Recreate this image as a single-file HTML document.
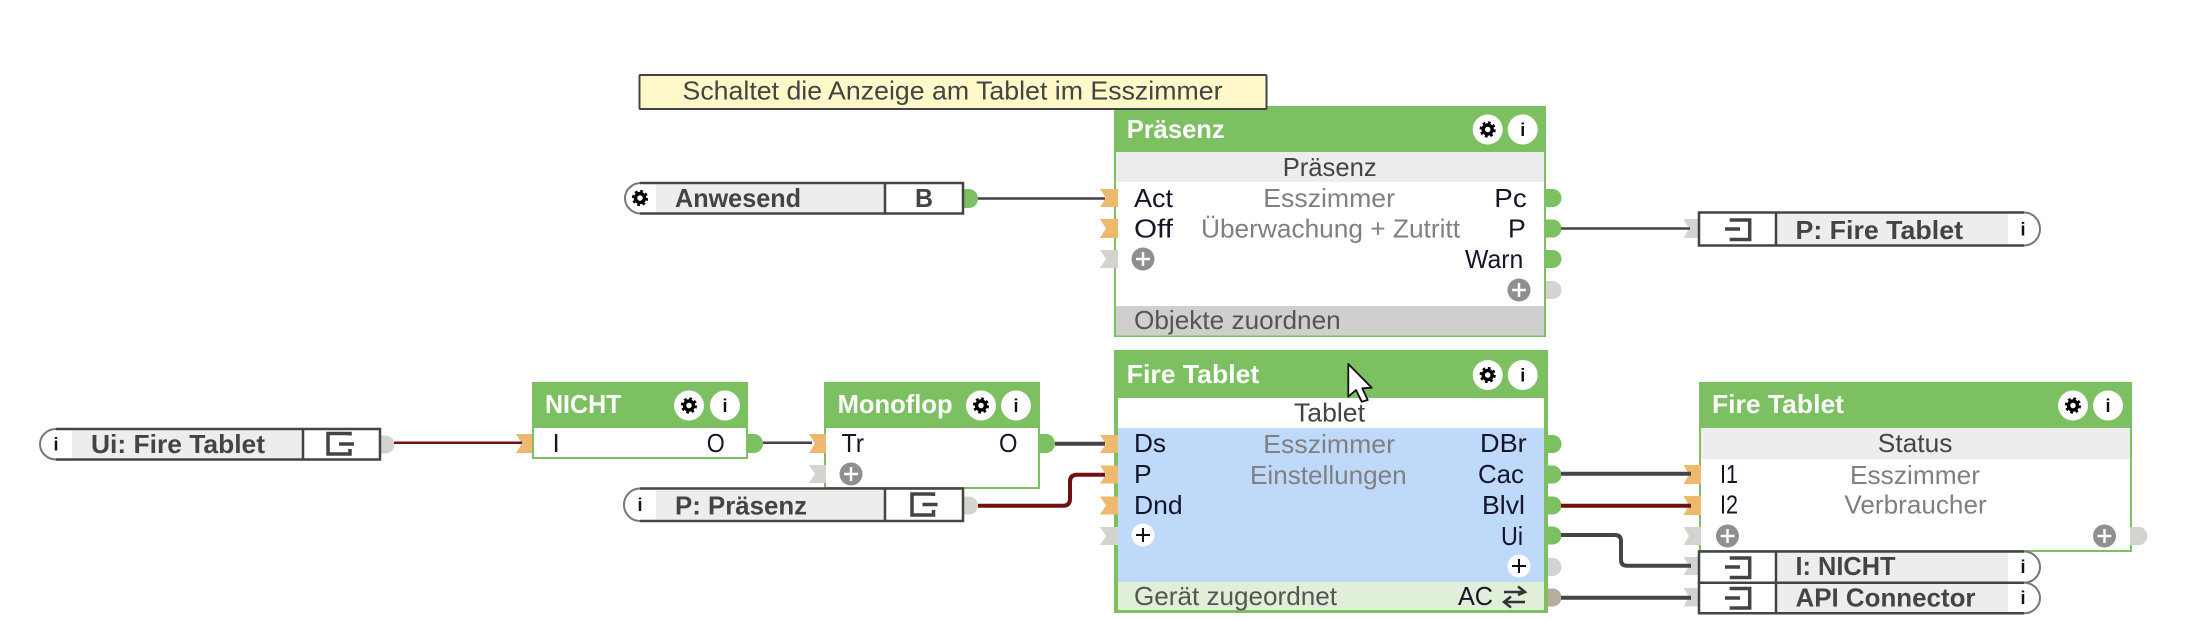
<!DOCTYPE html>
<html>
<head>
<meta charset="utf-8">
<style>
html,body{margin:0;padding:0;background:#fff;width:2194px;height:620px;overflow:hidden}
svg{display:block}
text{font-family:"Liberation Sans",Arial,sans-serif;font-size:26px}
.p{fill:#15152a}
.m{fill:#808080}
.t{fill:#fff;font-weight:bold}
.f{fill:#555}
.n{fill:#444;font-weight:bold}
.i{fill:#111;font-weight:bold;font-size:18px}
.or{fill:#edb96e}
.gr{fill:#d3d3cf}
.go{fill:#7dc062}
.ln{fill:none;stroke:#444;stroke-linejoin:round}
.rd{fill:none;stroke:#701010;stroke-linejoin:round}
.nb{fill:#fff;stroke:#444;stroke-width:2.5}
.arc{fill:#fff;stroke:#777;stroke-width:2}
.ic{fill:none;stroke:#444;stroke-width:3.5}
.gi{fill:none;stroke:#000}
</style>
</head>
<body>
<svg width="2194" height="620" viewBox="0 0 2194 620" xmlns="http://www.w3.org/2000/svg">

<!-- Block: Praesenz -->
<rect x="1114" y="106" width="432" height="231" fill="#7dc062"/>
<rect x="1116" y="152" width="428" height="183" fill="#fff"/>
<rect x="1116" y="152" width="428" height="30" fill="#ededed"/>
<rect x="1116" y="306" width="428" height="29.5" fill="#cfcfcf"/>

<!-- Block: Fire Tablet main -->
<rect x="1114" y="350" width="434" height="263" fill="#7dc062"/>
<rect x="1118" y="398" width="426" height="212" fill="#fff"/>
<rect x="1118" y="428" width="426" height="154" fill="#bfd9fb"/>
<rect x="1118" y="582" width="426" height="28" fill="#dfefd8"/>

<!-- Block: NICHT -->
<rect x="532" y="382" width="216" height="77" fill="#7dc062"/>
<rect x="534" y="428" width="212" height="29" fill="#fff"/>

<!-- Block: Monoflop -->
<rect x="824" y="382" width="216" height="107" fill="#7dc062"/>
<rect x="826" y="428" width="212" height="59" fill="#fff"/>

<!-- Block: Status -->
<rect x="1699" y="382" width="433" height="170" fill="#7dc062"/>
<rect x="1701" y="428" width="429" height="122" fill="#fff"/>
<rect x="1701" y="428" width="429" height="31" fill="#ededed"/>

<!-- Input ports -->
<polygon class="or" points="1100,189 1118,189 1118,207 1100,207 1106,198"/>
<polygon class="or" points="1100,219 1118,219 1118,238 1100,238 1106,228.5"/>
<polygon class="gr" points="1100,250 1118,250 1118,268 1100,268 1106,259"/>
<polygon class="or" points="1100,435 1118,435 1118,453 1100,453 1106,444"/>
<polygon class="or" points="1100,465.500 1118,465.500 1118,483.500 1100,483.500 1106,474.500"/>
<polygon class="or" points="1100,496.500 1118,496.500 1118,514.500 1100,514.500 1106,505.500"/>
<polygon class="gr" points="1100,527 1118,527 1118,545 1100,545 1106,536"/>
<polygon class="or" points="516,434 532,434 532,453 516,453 522,443.500"/>
<polygon class="or" points="809,434 826,434 826,453 809,453 815,443.500"/>
<polygon class="gr" points="809,465 826,465 826,483 809,483 815,474"/>
<polygon class="gr" points="1683.500,219 1699,219 1699,238 1683.500,238 1689,228.500"/>
<polygon class="or" points="1683.500,465 1701,465 1701,484 1683.500,484 1689,474.500"/>
<polygon class="or" points="1683.500,496 1701,496 1701,515 1683.500,515 1689,505.500"/>
<polygon class="gr" points="1683.500,527 1701,527 1701,545 1683.500,545 1689,536"/>
<polygon class="gr" points="1683.500,557 1699,557 1699,575 1683.500,575 1689,566"/>
<polygon class="gr" points="1683.500,588 1699,588 1699,606.500 1683.500,606.500 1689,597"/>

<!-- Output ports -->
<path class="go" d="M963,189h6a9,9.500 0 0 1 0,19h-6z"/>
<path class="go" d="M1546,189h6.500a9,9 0 0 1 0,18h-6.500z"/>
<path class="go" d="M1546,219.500h6.500a9,9 0 0 1 0,18h-6.500z"/>
<path class="go" d="M1546,250h6.500a9,9 0 0 1 0,18h-6.500z"/>
<path class="gr" d="M1546,281h6.500a9,9 0 0 1 0,18h-6.500z"/>
<path class="go" d="M1548,435h4.500a9,9 0 0 1 0,18h-4.500z"/>
<path class="go" d="M1548,465.500h4.500a9,9 0 0 1 0,18h-4.500z"/>
<path class="go" d="M1548,496.500h4.500a9,9 0 0 1 0,18h-4.500z"/>
<path class="go" d="M1548,526.500h4.500a9,9 0 0 1 0,18h-4.500z"/>
<path class="gr" d="M1548,558h4.500a9,9 0 0 1 0,18h-4.500z"/>
<path d="M1548,588.500h4.500a9,9 0 0 1 0,18h-4.500z" fill="#b8ad9b"/>
<path class="go" d="M748,434h6a9,9.500 0 0 1 0,19h-6z"/>
<path class="go" d="M1040,434h6a9,9.500 0 0 1 0,19h-6z"/>
<path class="gr" d="M2130,527h8.500a9,9 0 0 1 0,18h-8.500z"/>
<path class="gr" d="M380,435.500h5.500a9,9 0 0 1 0,18h-5.500z"/>
<path class="gr" d="M963,496.500h6a9,9 0 0 1 0,18h-6z"/>

<!-- Connectors -->
<path class="ln" stroke-width="2.500" d="M978,198.500H1105"/>
<path class="ln" stroke-width="2.500" d="M1561,228.500H1690"/>
<path class="rd" stroke-width="2.500" d="M394,442.800H522"/>
<path class="ln" stroke-width="2.500" d="M763,442.800H812"/>
<path class="ln" stroke-width="4" d="M1055,443.700H1105"/>
<path class="rd" stroke-width="4" d="M978,505.700H1063Q1070,505.700 1070,498.700V481.700Q1070,474.700 1077,474.700H1105"/>
<path class="ln" stroke-width="4" d="M1561,473.700H1691"/>
<path class="rd" stroke-width="4" d="M1561,505.700H1691"/>
<path class="ln" stroke-width="4" d="M1561,535H1615Q1621,535 1621,541V559.700Q1621,565.700 1627,565.700H1691"/>
<path class="ln" stroke-width="4" d="M1561,597.700H1691"/>

<!-- Node: Anwesend -->
<path class="arc" d="M641,183A16,15.250 0 0 0 641,213.500"/>
<path class="nb" d="M640,183H963V213.500H640"/>
<rect x="656" y="184.500" width="229" height="27.500" fill="#ededed"/>
<line x1="885" y1="183" x2="885" y2="213.500" stroke="#444" stroke-width="2.500"/>
<circle cx="640" cy="198" r="4.500" class="gi" stroke-width="3.500"/>
<circle cx="640" cy="198" r="7" class="gi" stroke-width="2.200" stroke-dasharray="2.750 2.750"/>
<text class="n" x="675" y="207" textLength="126" lengthAdjust="spacingAndGlyphs">Anwesend</text>
<text class="n" x="924" y="207" text-anchor="middle" textLength="18" lengthAdjust="spacingAndGlyphs">B</text>

<!-- Node: P: Fire Tablet -->
<path class="arc" d="M2024,212.500A16,16.500 0 0 1 2024,245.500"/>
<path class="nb" d="M2024,212.500H1699V245.500H2024"/>
<rect x="1776" y="214" width="232" height="30" fill="#ededed"/>
<line x1="1776" y1="212.500" x2="1776" y2="245.500" stroke="#444" stroke-width="2.500"/>
<path class="ic" d="M1729.700,220H1749.700V239.500H1729.700M1725,229H1740"/>
<text class="n" x="1795.500" y="239" textLength="167.500" lengthAdjust="spacingAndGlyphs">P: Fire Tablet</text>
<text class="i" x="2023" y="235.500" text-anchor="middle">i</text>

<!-- Node: Ui: Fire Tablet -->
<path class="arc" d="M56,429A16,15.250 0 0 0 56,459.500"/>
<path class="nb" d="M56,429H380V459.500H56"/>
<rect x="72" y="430.500" width="231" height="27.500" fill="#ededed"/>
<line x1="303" y1="429" x2="303" y2="459.500" stroke="#444" stroke-width="2.500"/>
<path class="ic" d="M350,435.500V433.500H328V454H350V449M339,444H354"/>
<text class="n" x="91" y="453" textLength="174" lengthAdjust="spacingAndGlyphs">Ui: Fire Tablet</text>
<text class="i" x="56" y="450.500" text-anchor="middle">i</text>

<!-- Node: P: Praesenz -->
<path class="arc" d="M640,488.500A16,16.250 0 0 0 640,521"/>
<path class="nb" d="M640,488.500H963V521H640"/>
<rect x="656" y="490" width="229" height="29.500" fill="#ededed"/>
<line x1="885" y1="488.500" x2="885" y2="521" stroke="#444" stroke-width="2.500"/>
<path class="ic" d="M933.500,496V494H912V515H933.500V510M922.500,504.500H937.500"/>
<text class="n" x="675" y="514.500" textLength="132" lengthAdjust="spacingAndGlyphs">P: Präsenz</text>
<text class="i" x="640" y="511" text-anchor="middle">i</text>

<!-- Node: I: NICHT -->
<path class="arc" d="M2024,551.500A16,15.600 0 0 1 2024,582.700"/>
<path class="nb" d="M2024,551.500H1699V582.700H2024"/>
<rect x="1776" y="553" width="232" height="28.500" fill="#ededed"/>
<line x1="1776" y1="551.500" x2="1776" y2="582.700" stroke="#444" stroke-width="2.500"/>
<path class="ic" d="M1729.700,558H1749.700V577.500H1729.700M1725,567H1740"/>
<text class="n" x="1795.500" y="575" textLength="100" lengthAdjust="spacingAndGlyphs">I: NICHT</text>
<text class="i" x="2023" y="573" text-anchor="middle">i</text>

<!-- Node: API Connector -->
<path class="arc" d="M2024,582.700A16,15.300 0 0 1 2024,613.300"/>
<path class="nb" d="M2024,582.700H1699V613.300H2024"/>
<rect x="1776" y="584" width="232" height="28" fill="#ededed"/>
<line x1="1776" y1="582.700" x2="1776" y2="613.300" stroke="#444" stroke-width="2.500"/>
<path class="ic" d="M1729.700,588.500H1749.700V608H1729.700M1725,598H1740"/>
<text class="n" x="1795.500" y="606.500" textLength="180" lengthAdjust="spacingAndGlyphs">API Connector</text>
<text class="i" x="2023" y="604" text-anchor="middle">i</text>

<!-- Comment -->
<rect x="639.500" y="75" width="627" height="34" rx="1" fill="#fff8c8" stroke="#444" stroke-width="2"/>
<text x="682.500" y="99.500" fill="#444" textLength="540" lengthAdjust="spacingAndGlyphs">Schaltet die Anzeige am Tablet im Esszimmer</text>

<!-- Header icons: Praesenz -->
<circle cx="1487.700" cy="129.500" r="15" fill="#fff"/>
<circle cx="1522.700" cy="129.500" r="15" fill="#fff"/>
<circle cx="1487.700" cy="129.500" r="4.500" class="gi" stroke-width="3.500"/>
<circle cx="1487.700" cy="129.500" r="7" class="gi" stroke-width="2.200" stroke-dasharray="2.750 2.750"/>
<text class="i" x="1522.700" y="136" text-anchor="middle">i</text>

<!-- Header icons: Fire Tablet -->
<circle cx="1487.700" cy="375" r="15" fill="#fff"/>
<circle cx="1522.700" cy="375" r="15" fill="#fff"/>
<circle cx="1487.700" cy="375" r="4.500" class="gi" stroke-width="3.500"/>
<circle cx="1487.700" cy="375" r="7" class="gi" stroke-width="2.200" stroke-dasharray="2.750 2.750"/>
<text class="i" x="1522.700" y="381.500" text-anchor="middle">i</text>

<!-- Header icons: NICHT -->
<circle cx="689" cy="405.500" r="15" fill="#fff"/>
<circle cx="725" cy="405.500" r="15" fill="#fff"/>
<circle cx="689" cy="405.500" r="4.500" class="gi" stroke-width="3.500"/>
<circle cx="689" cy="405.500" r="7" class="gi" stroke-width="2.200" stroke-dasharray="2.750 2.750"/>
<text class="i" x="725" y="412" text-anchor="middle">i</text>

<!-- Header icons: Monoflop -->
<circle cx="981" cy="405.500" r="15" fill="#fff"/>
<circle cx="1016" cy="405.500" r="15" fill="#fff"/>
<circle cx="981" cy="405.500" r="4.500" class="gi" stroke-width="3.500"/>
<circle cx="981" cy="405.500" r="7" class="gi" stroke-width="2.200" stroke-dasharray="2.750 2.750"/>
<text class="i" x="1016" y="412" text-anchor="middle">i</text>

<!-- Header icons: Status -->
<circle cx="2073" cy="405.500" r="15" fill="#fff"/>
<circle cx="2108" cy="405.500" r="15" fill="#fff"/>
<circle cx="2073" cy="405.500" r="4.500" class="gi" stroke-width="3.500"/>
<circle cx="2073" cy="405.500" r="7" class="gi" stroke-width="2.200" stroke-dasharray="2.750 2.750"/>
<text class="i" x="2108" y="412" text-anchor="middle">i</text>

<!-- Plus buttons -->
<circle cx="1143" cy="259" r="11.500" fill="#8f8f8f"/>
<path d="M1136,259H1150M1143,252V266" stroke="#fff" stroke-width="2.500" fill="none"/>
<circle cx="1519" cy="290" r="11.500" fill="#8f8f8f"/>
<path d="M1512,290H1526M1519,283V297" stroke="#fff" stroke-width="2.500" fill="none"/>
<circle cx="851" cy="474" r="11.500" fill="#8f8f8f"/>
<path d="M844,474H858M851,467V481" stroke="#fff" stroke-width="2.500" fill="none"/>
<circle cx="1727.500" cy="536" r="11.500" fill="#8f8f8f"/>
<path d="M1720.500,536H1734.500M1727.500,529V543" stroke="#fff" stroke-width="2.500" fill="none"/>
<circle cx="2104.500" cy="536" r="11.500" fill="#8f8f8f"/>
<path d="M2097.500,536H2111.500M2104.500,529V543" stroke="#fff" stroke-width="2.500" fill="none"/>
<circle cx="1143" cy="535" r="11.500" fill="#fff"/>
<path d="M1136,535H1150M1143,528V542" stroke="#111" stroke-width="2" fill="none"/>
<circle cx="1519" cy="566" r="11.500" fill="#fff"/>
<path d="M1512,566H1526M1519,559V573" stroke="#111" stroke-width="2" fill="none"/>

<!-- Praesenz text -->
<text class="t" x="1126.700" y="138" textLength="98" lengthAdjust="spacingAndGlyphs">Präsenz</text>
<text x="1282.700" y="176" fill="#444" textLength="94" lengthAdjust="spacingAndGlyphs">Präsenz</text>
<text class="p" x="1134" y="207" textLength="39" lengthAdjust="spacingAndGlyphs">Act</text>
<text class="p" x="1134" y="237.500" textLength="39" lengthAdjust="spacingAndGlyphs">Off</text>
<text class="m" x="1263.300" y="207" textLength="131.700" lengthAdjust="spacingAndGlyphs">Esszimmer</text>
<text class="m" x="1201" y="237.500" textLength="259" lengthAdjust="spacingAndGlyphs">Überwachung + Zutritt</text>
<text class="p" x="1494.300" y="207" textLength="32.400" lengthAdjust="spacingAndGlyphs">Pc</text>
<text class="p" x="1508" y="237.500" textLength="17.700" lengthAdjust="spacingAndGlyphs">P</text>
<text class="p" x="1465" y="268" textLength="58.300" lengthAdjust="spacingAndGlyphs">Warn</text>
<text class="f" x="1134" y="329" textLength="206.700" lengthAdjust="spacingAndGlyphs">Objekte zuordnen</text>

<!-- Fire Tablet text -->
<text class="t" x="1126.700" y="383" textLength="132.600" lengthAdjust="spacingAndGlyphs">Fire Tablet</text>
<text x="1294" y="421.700" fill="#444" textLength="71" lengthAdjust="spacingAndGlyphs">Tablet</text>
<text class="p" x="1134" y="452" textLength="32" lengthAdjust="spacingAndGlyphs">Ds</text>
<text class="p" x="1134" y="483" textLength="17.700" lengthAdjust="spacingAndGlyphs">P</text>
<text class="p" x="1134" y="514" textLength="48.700" lengthAdjust="spacingAndGlyphs">Dnd</text>
<text class="m" x="1263.300" y="453" textLength="131.700" lengthAdjust="spacingAndGlyphs">Esszimmer</text>
<text class="m" x="1250" y="484" textLength="156.700" lengthAdjust="spacingAndGlyphs">Einstellungen</text>
<text class="p" x="1480" y="452" textLength="46.700" lengthAdjust="spacingAndGlyphs">DBr</text>
<text class="p" x="1478" y="483" textLength="46" lengthAdjust="spacingAndGlyphs">Cac</text>
<text class="p" x="1482" y="514" textLength="43" lengthAdjust="spacingAndGlyphs">Blvl</text>
<text class="p" x="1501" y="545" textLength="22" lengthAdjust="spacingAndGlyphs">Ui</text>
<text class="f" x="1134" y="605" textLength="203" lengthAdjust="spacingAndGlyphs">Gerät zugeordnet</text>
<text class="p" x="1458" y="605" textLength="35" lengthAdjust="spacingAndGlyphs">AC</text>
<path d="M1504,592H1524M1518,586.500L1525,592L1518,595M1525,602H1505M1511,596.500L1504,602L1511,607.500" fill="none" stroke="#333" stroke-width="2.500"/>

<!-- NICHT text -->
<text class="t" x="545" y="413" textLength="76.400" lengthAdjust="spacingAndGlyphs">NICHT</text>
<text class="p" x="552.500" y="452">I</text>
<text class="p" x="706.800" y="452" textLength="18" lengthAdjust="spacingAndGlyphs">O</text>

<!-- Monoflop text -->
<text class="t" x="837.600" y="413" textLength="115" lengthAdjust="spacingAndGlyphs">Monoflop</text>
<text class="p" x="841.500" y="452" textLength="22.500" lengthAdjust="spacingAndGlyphs">Tr</text>
<text class="p" x="999" y="452" textLength="18.500" lengthAdjust="spacingAndGlyphs">O</text>

<!-- Status text -->
<text class="t" x="1712" y="413" textLength="132" lengthAdjust="spacingAndGlyphs">Fire Tablet</text>
<text x="1877.800" y="452" fill="#444" textLength="74.600" lengthAdjust="spacingAndGlyphs">Status</text>
<text class="p" x="1720" y="483" textLength="18" lengthAdjust="spacingAndGlyphs">I1</text>
<text class="p" x="1720" y="513.500" textLength="18" lengthAdjust="spacingAndGlyphs">I2</text>
<text class="m" x="1850" y="484" textLength="130" lengthAdjust="spacingAndGlyphs">Esszimmer</text>
<text class="m" x="1844.400" y="513.500" textLength="142.300" lengthAdjust="spacingAndGlyphs">Verbraucher</text>

<!-- Cursor -->
<polygon points="1348.300,364 1348.300,396.700 1356,390 1361.700,401.700 1367.700,400 1362.300,388.300 1371.700,387.700" fill="#fff" stroke="#111" stroke-width="1.800" stroke-linejoin="round"/>
</svg>
</body>
</html>
